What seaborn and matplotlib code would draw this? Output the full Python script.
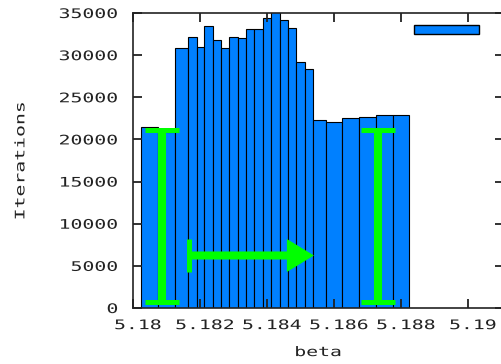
import numpy as np
import pandas as pd
import matplotlib
matplotlib.use("Agg")
import matplotlib.pyplot as plt
from matplotlib.patches import Patch
from matplotlib.patheffects import AbstractPathEffect
from matplotlib.transforms import Affine2D
import seaborn as sns

# ---- data ----
beta = [5.1805, 5.181, 5.1815, 5.1818, 5.182, 5.18225, 5.1825, 5.18275,
        5.183, 5.18325, 5.1835, 5.18375, 5.184, 5.18425, 5.1845, 5.18475,
        5.185, 5.18525, 5.1855, 5.186, 5.1865, 5.187, 5.1875, 5.188]
iterations = [21500, 20900, 30800, 32100, 31000, 33400, 31800, 30800,
              32100, 32000, 33100, 33100, 34400, 35500, 34200, 33200,
              29200, 28300, 22300, 22100, 22500, 22700, 22900, 22900]

xticks = [5.18, 5.182, 5.184, 5.186, 5.188, 5.19]
xticklabels = ["5.18", "5.182", "5.184", "5.186", "5.188", "5.19"]
yticks = [0, 5000, 10000, 15000, 20000, 25000, 30000, 35000]
yticklabels = ["0", "5000", "10000", "15000", "20000", "25000", "30000", "35000"]

# green interval markers (x, low, high) and arrow (x_from, x_to, y)
err_x = [5.18087, 5.18731]
err_low = [771, 771]
err_high = [21177, 21177]
arrow_from = 5.18166
arrow_to = 5.1854
arrow_y = 6230
arrow_tail_half = 2000

BLUE = "#0080ff"
GREEN = "#00ff00"
TXT = "#222222"
FS = 9.5


class Stretch(AbstractPathEffect):
    """Widen glyphs to mimic the wide pixel font of the original."""
    def __init__(self, sx=1.0, sy=1.0, h="center", dx=0.0):
        super().__init__()
        self.sx, self.sy, self.h, self.dx = sx, sy, h, dx

    def draw_path(self, renderer, gc, tpath, affine, rgbFace=None):
        ext = tpath.get_extents(affine)
        cx = {"left": ext.x0, "center": (ext.x0 + ext.x1) / 2, "right": ext.x1}[self.h]
        cy = (ext.y0 + ext.y1) / 2
        t = affine + Affine2D().translate(-cx, -cy).scale(self.sx, self.sy).translate(cx + self.dx, cy)
        renderer.draw_path(gc, tpath, t, rgbFace)


sns.set_theme(style="white")
plt.rcParams["font.family"] = ["DejaVu Sans Mono", "DejaVu Sans"]
plt.rcParams["axes.axisbelow"] = False

df = pd.DataFrame({"beta": beta, "iterations": iterations})
c = np.array(beta)
mids = (c[1:] + c[:-1]) / 2
edges = np.concatenate([[c[0] - (c[1] - c[0]) / 2], mids, [c[-1] + (c[-1] - c[-2]) / 2]])

fig = plt.figure(figsize=(5.02, 3.64), dpi=100)
AX_W = 370.5
ax = fig.add_axes([133 / 502, 1 - 308 / 364, AX_W / 502, 295 / 364])
ax.set_axisbelow(False)

sns.histplot(data=df, x="beta", weights="iterations", bins=edges.tolist(), ax=ax,
             color=BLUE, alpha=1, edgecolor="black", linewidth=0.8)

ax.set_xlim(5.18, 5.18 + AX_W / 33500)
ax.set_ylim(0, 35000)

# interval bars
for xi, lo, hi in zip(err_x, err_low, err_high):
    ax.errorbar([xi], [(lo + hi) / 2], yerr=[(hi - lo) / 2], fmt="none",
                ecolor=GREEN, elinewidth=5.8, capsize=12.2, capthick=3.6, zorder=5)

# arrow with flat tail
ax.vlines(arrow_from, arrow_y - arrow_tail_half, arrow_y + arrow_tail_half,
          color=GREEN, lw=3.6, zorder=5)
ax.arrow(arrow_from, arrow_y, arrow_to - arrow_from - 0.000806, 0,
         width=950, head_width=3915, head_length=0.000806,
         length_includes_head=False, color=GREEN, lw=0, zorder=5)

ax.set_xticks(xticks)
ax.set_xticklabels(xticklabels)
ax.set_yticks(yticks)
ax.set_yticklabels(yticklabels)
ax.tick_params(axis="both", which="major", direction="in", length=6.5, width=1.3,
               color="#222222", labelcolor=TXT, labelsize=FS,
               top=True, right=True, left=True, bottom=True)
ax.tick_params(axis="y", pad=10.8)
ax.tick_params(axis="x", pad=8)

for lab in ax.get_xticklabels():
    lab.set_path_effects([Stretch(sx=1.5, h="center", dx=5)])
for lab in ax.get_yticklabels():
    lab.set_path_effects([Stretch(sx=1.5, h="right")])

for s in ax.spines.values():
    s.set_color(TXT)
    s.set_linewidth(1.2)
    s.set_visible(True)

ax.set_xlabel("beta", fontsize=FS, color=TXT)
ax.set_ylabel("Iterations", fontsize=FS, color=TXT)
ax.xaxis.set_label_coords(0.5, -0.129)
ax.yaxis.set_label_coords(-0.285, 0.5)
ax.xaxis.label.set_path_effects([Stretch(sx=1.5, h="center")])
ax.yaxis.label.set_path_effects([Stretch(sy=1.5, h="center")])

ax.legend(handles=[Patch(facecolor=BLUE, edgecolor="black", linewidth=1.0)],
          labels=[""], loc="upper right", bbox_to_anchor=((479 - 133) / AX_W, 0.965),
          frameon=False, fontsize=11, handlelength=4.25, handleheight=0.52,
          handletextpad=0, borderpad=0, borderaxespad=0)

fig.savefig("out.png", dpi=100)
